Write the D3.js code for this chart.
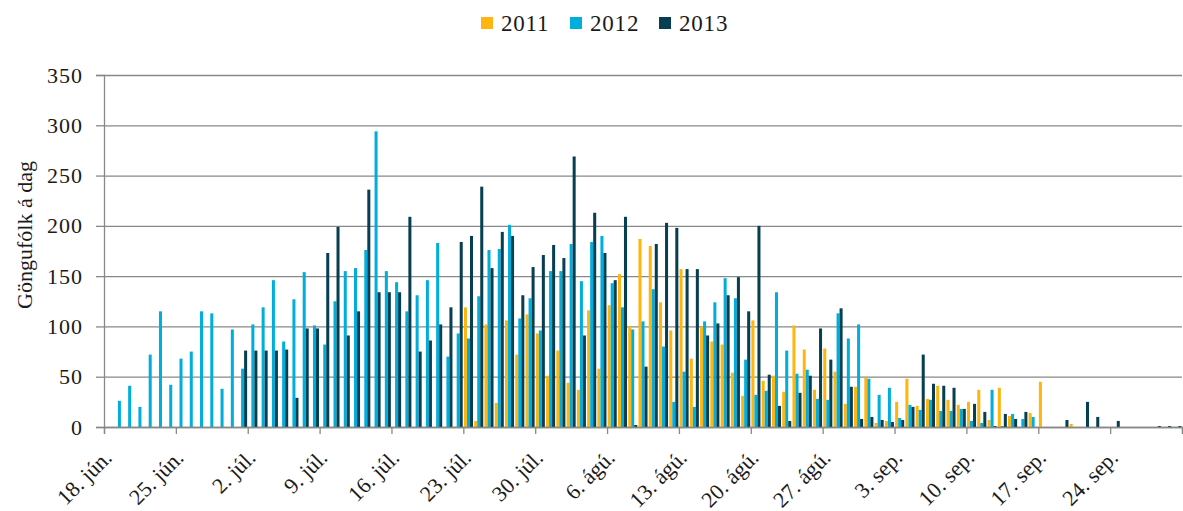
<!DOCTYPE html>
<html>
<head>
<meta charset="utf-8">
<script src="https://cdn.jsdelivr.net/npm/d3@7"></script>
<style>
  body { margin: 0; background: #fff; }
  svg text { font-family: "Liberation Serif", "Times New Roman", serif; fill: #1a1a1a; }
</style>
</head>
<body>
<svg width="1183" height="511"></svg>
<script>
// daily counts, index 0 = 18. jún. (105 days, to 30. sep.)
var startDay = new Date(2013, 5, 18);
var endDay = new Date(2013, 9, 1);

var seriesNames = ["2011", "2012", "2013"];
var seriesColors = ["#FFB50D", "#00AEDC", "#063F52"];

var weekLabels = ["18. jún.", "25. jún.", "2. júl.", "9. júl.", "16. júl.", "23. júl.", "30. júl.",
  "6. ágú.", "13. ágú.", "20. ágú.", "27. ágú.", "3. sep.", "10. sep.", "17. sep.", "24. sep."];

var yTicks = [0, 50, 100, 150, 200, 250, 300, 350];

var values2011 = [
  null, null, null, null, null, null, null, null, null, null,
  null, null, null, null, null, null, null, null, null, null,
  null, null, null, null, null, null, null, null, null, null,
  null, null, null, null, null, 119, 6, 102, 24, 106,
  72, 112, 93, 51, 76, 44, 37, 116, 58, 121,
  152, 100, 187, 180, 124, 96, 157, 68, 100, 85,
  82, 54, 31, 106, 46, 51, 35, 101, 77, 37,
  78, 55, 23, 40, 49, 4, 6, 25, 48, 21,
  28, 41, 27, 22, 25, 37, 7, 39, 11, null,
  14, 45, null, null, 3, null, null, null, null, null,
  null, null, null, null, null
];

var values2012 = [
  null, 26, 41, 20, 72, 115, 42, 68, 75, 115,
  113, 38, 97, 58, 102, 119, 146, 85, 127, 154,
  101, 82, 125, 155, 158, 176, 294, 155, 144, 115,
  131, 146, 183, 70, 93, 88, 130, 176, 177, 201,
  108, 128, 96, 155, 155, 182, 145, 184, 190, 143,
  119, 97, 105, 137, 80, 25, 55, 20, 105, 124,
  148, 128, 67, 32, 36, 134, 76, 53, 57, 28,
  27, 113, 88, 102, 48, 32, 39, 9, 22, 17,
  27, 16, 16, 18, 6, 4, 37, 1, 13, 8,
  10, null, null, null, null, null, null, null, null, null,
  null, null, null, null, null
];

var values2013 = [
  null, null, null, null, null, null, null, null, null, null,
  null, null, null, 76, 76, 76, 76, 77, 29, 98,
  98, 173, 199, 91, 115, 236, 134, 134, 134, 209,
  75, 86, 102, 119, 184, 190, 239, 158, 194, 190,
  131, 159, 171, 181, 168, 269, 91, 213, 173, 146,
  209, 2, 60, 182, 203, 198, 157, 157, 91, 103,
  131, 149, 115, 200, 52, 21, 6, 34, 51, 98,
  67, 118, 40, 8, 10, 7, 5, 7, 20, 72,
  43, 41, 39, 18, 23, 15, 1, 13, 8, 15,
  null, null, null, 7, null, 25, 10, null, 6, null,
  null, null, 1, 1, 1
];

var allSeries = [values2011, values2012, values2013];
var days = d3.timeDay.range(startDay, endDay);

var margin = {top: 75, right: 1, bottom: 84, left: 104};
var width = 1183 - margin.left - margin.right;
var height = 511 - margin.top - margin.bottom;
var axisColor = "#888888";

var svg = d3.select("svg");
var main = svg.append("g")
  .attr("transform", "translate(" + margin.left + "," + margin.top + ")");

// scales
var x = d3.scaleBand()
  .domain(d3.range(days.length))
  .range([0, width])
  .padding(0);

var xInner = d3.scaleBand()
  .domain(seriesNames)
  .range([0, x.bandwidth()])
  .paddingInner(0)
  .paddingOuter(0.2);

// boundaries between days, for the tick marks
var xEdge = d3.scaleLinear()
  .domain([0, days.length])
  .range([0, width]);

var y = d3.scaleLinear()
  .domain([0, 350])
  .range([height, 0]);

// gridlines
var grid = main.append("g")
  .call(d3.axisLeft(y).tickValues(yTicks).tickSize(-width).tickFormat(""));
grid.select(".domain").remove();
grid.selectAll("line").attr("stroke", axisColor).attr("stroke-width", 1.3);

// y axis
var yAxis = main.append("g")
  .call(d3.axisLeft(y).tickValues(yTicks).tickSize(8).tickPadding(13));
yAxis.select(".domain").attr("stroke", axisColor).attr("stroke-width", 1.3);
yAxis.selectAll("line").attr("stroke", axisColor).attr("stroke-width", 1.3);
yAxis.selectAll("text")
  .attr("font-size", 22)
  .attr("letter-spacing", 1)
  .style("font-family", "Liberation Serif, serif")
  .attr("fill", "#1a1a1a");

// bars
allSeries.forEach(function (vals, s) {
  var name = seriesNames[s];
  main.append("g")
    .selectAll("rect")
    .data(vals.map(function (v, i) { return {i: i, v: v}; })
      .filter(function (d) { return d.v != null; }))
    .enter().append("rect")
      .attr("x", function (d) { return x(d.i) + xInner(name); })
      .attr("width", xInner.bandwidth())
      .attr("y", function (d) { return y(d.v); })
      .attr("height", function (d) { return height - y(d.v); })
      .attr("fill", seriesColors[s]);
});

// x axis with ticks every 7 days
var xAxis = main.append("g")
  .attr("transform", "translate(0," + height + ")")
  .call(d3.axisBottom(xEdge).tickValues(d3.range(0, days.length + 1, 7)).tickSize(7).tickFormat(""));
xAxis.select(".domain").attr("stroke", axisColor).attr("stroke-width", 1.3);
xAxis.selectAll("line").attr("stroke", axisColor).attr("stroke-width", 1.3);

main.append("g")
  .selectAll("text")
  .data(weekLabels)
  .enter().append("text")
    .attr("transform", function (d, k) {
      return "translate(" + (x(k * 7) + x.bandwidth() / 2 + 4) + "," + (height + 32) + ") rotate(-45)";
    })
    .attr("text-anchor", "end")
    .attr("font-size", 22)
    .text(function (d) { return d; });

// y title
svg.append("text")
  .attr("transform", "translate(32," + (margin.top + height / 2 - 16) + ") rotate(-90)")
  .attr("text-anchor", "middle")
  .attr("font-size", 22)
  .text("Göngufólk á dag");

// legend
var legendX = [481, 570, 659];
var legend = svg.append("g");
seriesNames.forEach(function (name, s) {
  legend.append("rect")
    .attr("x", legendX[s])
    .attr("y", 17)
    .attr("width", 12)
    .attr("height", 12)
    .attr("fill", seriesColors[s]);
  legend.append("text")
    .attr("x", legendX[s] + 20)
    .attr("y", 31)
    .attr("font-size", 23)
    .attr("letter-spacing", 0.8)
    .text(name);
});
</script>
</body>
</html>
